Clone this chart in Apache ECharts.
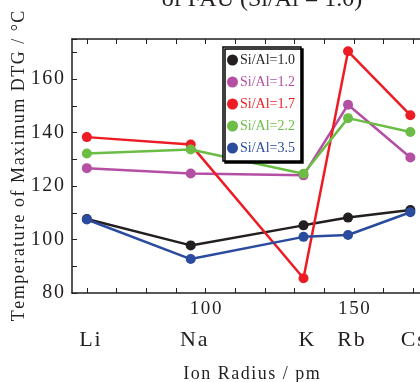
<!DOCTYPE html>
<html><head><meta charset="utf-8">
<script src="https://cdn.jsdelivr.net/npm/echarts@6/dist/echarts.min.js"></script>
<style>html,body{margin:0;padding:0;background:#fff}#c{width:420px;height:382px}</style>
</head><body><div id="c"></div>
<script>
const radii = [60, 95, 133, 148, 169];
const ions = ['Li', 'Na', 'K', 'Rb', 'Cs'];
const seriesNames = ['Si/Al=1.0', 'Si/Al=1.2', 'Si/Al=1.7', 'Si/Al=2.2', 'Si/Al=3.5'];
const siAl10 = [107.7, 97.8, 105.3, 108.2, 111.0];
const siAl12 = [126.7, 124.7, 124.0, 150.4, 130.7];
const siAl17 = [138.3, 135.5, 85.5, 170.4, 146.5];
const siAl22 = [132.2, 133.7, 124.6, 145.4, 140.2];
const siAl35 = [107.5, 92.7, 101.0, 101.7, 110.2];
const xTickLabels = [100, 150];
const yTickLabels = [80, 100, 120, 140, 160];
const colors = ['#231f20', '#b44fa3', '#ed1c24', '#6cbd45', '#2b4c9e'];

const allValues = [siAl10, siAl12, siAl17, siAl22, siAl35];
const minorTicks = [];
for (let v = 60; v <= 180; v += 10) minorTicks.push(v);
const spaced = s => s.split('').join('\u200A');
const ink = '#231f20';
const font = 'Liberation Serif';
const X_MIN = 55, X_MAX = 180;

const chart = echarts.init(document.getElementById('c'), null, {renderer: 'canvas'});
chart.setOption({
  animation: false,
  backgroundColor: '#fff',
  color: colors,
  grid: {left: 72, top: 39, right: -23, bottom: 89, containLabel: false, outerBoundsMode: 'none'},
  graphic: [{
    type: 'text', x: 262, y: 12,
    style: {text: 'of FAU (Si/Al = 1.0)', font: '24px "Liberation Serif"', fill: ink,
            textAlign: 'center', textVerticalAlign: 'bottom'}
  }],
  legend: {
    orient: 'vertical', left: 223, top: 47,
    padding: [6, 6, 6, 4], itemGap: 8, itemWidth: 11, itemHeight: 11,
    icon: 'circle',
    backgroundColor: '#fff', borderColor: '#000', borderWidth: 1.5,
    shadowColor: '#000', shadowOffsetX: 2, shadowOffsetY: 2, shadowBlur: 0,
    textStyle: {fontFamily: font, fontSize: 14, padding: [0, 0, 0, -3]},
    data: seriesNames.map((n, i) => ({name: n, textStyle: {color: colors[i]}}))
  },
  xAxis: [{
    type: 'value', min: X_MIN, max: X_MAX, position: 'bottom',
    name: spaced('Ion Radius / pm'), nameLocation: 'middle', nameGap: 72,
    nameTextStyle: {fontFamily: font, fontSize: 18, color: ink, padding: [0, 12, 0, 0]},
    axisLine: {lineStyle: {color: ink, width: 1.5}},
    axisTick: {inside: true, length: 5, customValues: minorTicks, lineStyle: {color: ink, width: 1}},
    axisLabel: {customValues: xTickLabels, fontFamily: font, fontSize: 19, color: ink, margin: 7,
                formatter: v => spaced(String(v))},
    splitLine: {show: false}
  }, {
    type: 'value', min: X_MIN, max: X_MAX, position: 'bottom', offset: 30,
    axisLine: {show: false}, axisTick: {show: false},
    axisLabel: {customValues: radii, fontFamily: font, fontSize: 22, color: ink, margin: 6,
                padding: [0, 0, 0, 6],
                formatter: v => spaced(ions[radii.indexOf(v)] || '')},
    splitLine: {show: false}
  }, {
    type: 'value', min: X_MIN, max: X_MAX, position: 'top',
    axisLine: {lineStyle: {color: ink, width: 1.5}},
    axisTick: {inside: true, length: 5, customValues: minorTicks, lineStyle: {color: ink, width: 1}},
    axisLabel: {show: false}, splitLine: {show: false}
  }],
  yAxis: [{
    type: 'value', min: 80, max: 175, interval: 10,
    name: spaced('Temperature of Maximum DTG / °C'), nameLocation: 'middle', nameGap: 44,
    nameMoveOverlap: false,
    nameTextStyle: {fontFamily: font, fontSize: 18, color: ink},
    axisLine: {show: true, lineStyle: {color: ink, width: 1.5}},
    axisTick: {show: true, inside: true, length: 5, lineStyle: {color: ink, width: 1}},
    axisLabel: {customValues: yTickLabels, fontFamily: font, fontSize: 20, color: ink, margin: 8,
                formatter: v => spaced(String(v))},
    splitLine: {show: false}
  }],
  series: allValues.map((vals, i) => ({
    name: seriesNames[i], type: 'line', xAxisIndex: 0, yAxisIndex: 0,
    data: vals.map((v, j) => [radii[j], v]),
    symbol: 'circle', symbolSize: 10,
    lineStyle: {width: 2.5, color: colors[i]},
    itemStyle: {color: colors[i]},
    emphasis: {disabled: true}
  }))
});
</script></body></html>
